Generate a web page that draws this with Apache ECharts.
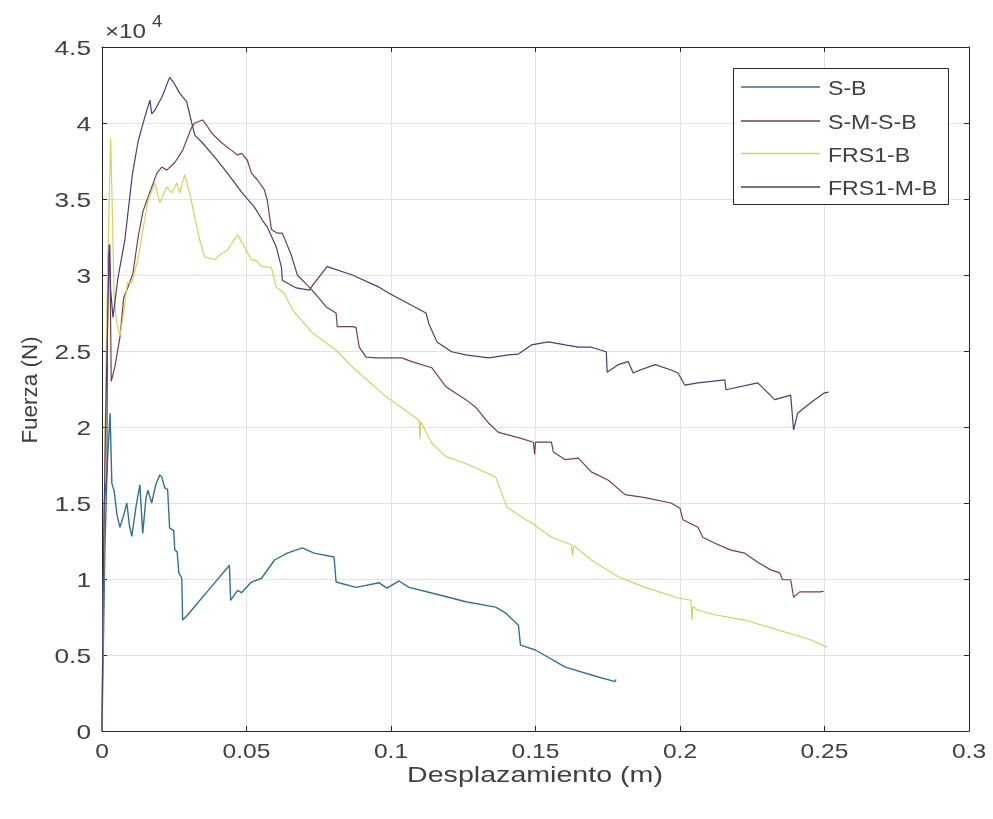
<!DOCTYPE html>
<html>
<head>
<meta charset="utf-8">
<script src="https://cdn.jsdelivr.net/npm/echarts@6/dist/echarts.min.js"></script>
<style>
  html, body { margin: 0; padding: 0; background: #ffffff; }
  #chart { width: 993px; height: 819px; }
</style>
</head>
<body>
<div id="chart"></div>
<script>
// Force-displacement curves: [displacement (m), force (N)]
const seriesNames = ['S-B', 'S-M-S-B', 'FRS1-B', 'FRS1-M-B'];

const sbData = [
  [0,0],[0.0005,6000],[0.001,12000],[0.0018,17500],[0.0028,20900],[0.0034,16300],[0.0042,15800],
  [0.0052,14200],[0.0062,13400],[0.0075,14200],[0.0086,15000],[0.0095,13500],[0.0103,12800],
  [0.0118,14800],[0.0131,16200],[0.0141,13000],[0.0152,15300],[0.0159,15850],[0.0172,15000],
  [0.0186,16200],[0.02,16850],[0.0207,16700],[0.0217,16000],[0.0227,15900],[0.0234,13350],
  [0.0248,13200],[0.0252,11900],[0.026,11800],[0.0266,10400],[0.0276,10050],[0.0279,7300],
  [0.0297,7650],[0.033,8400],[0.037,9300],[0.0441,10900],[0.0445,8600],[0.0469,9250],
  [0.0483,9100],[0.0517,9800],[0.0552,10050],[0.0597,11250],[0.0641,11700],[0.0693,12050],
  [0.0734,11700],[0.0803,11450],[0.081,9800],[0.0879,9450],[0.0959,9750],[0.0986,9400],
  [0.1028,9870],[0.1062,9450],[0.1141,9080],[0.1259,8500],[0.1362,8150],[0.1397,7750],
  [0.1441,6950],[0.1448,5650],[0.15,5330],[0.1603,4200],[0.1717,3550],[0.1776,3250],[0.1778,3400]
];

const smsbData = [
  [0,0],[0.0004,9000],[0.0008,15000],[0.0017,17000],[0.002,31000],[0.0027,32000],[0.0032,23000],
  [0.0045,24000],[0.0062,25900],[0.0075,28500],[0.009,29200],[0.0107,30100],[0.0125,32500],
  [0.0142,34200],[0.0159,35100],[0.019,36700],[0.0207,37100],[0.0224,36900],[0.0252,37400],
  [0.0279,38200],[0.031,39700],[0.0321,40000],[0.0348,40200],[0.0362,39850],[0.0379,39350],
  [0.0414,38700],[0.0448,38200],[0.0469,37900],[0.0483,38000],[0.0503,37550],[0.0517,36700],
  [0.0538,36250],[0.0562,35600],[0.0572,34900],[0.0586,33000],[0.0607,32750],[0.0624,32750],
  [0.0638,32100],[0.0655,31300],[0.0676,30000],[0.0717,29200],[0.0741,28700],[0.0776,27900],
  [0.081,27500],[0.0814,26600],[0.0866,26600],[0.0879,26550],[0.089,25250],[0.0914,24600],
  [0.0948,24550],[0.1003,24550],[0.1037,24550],[0.1072,24300],[0.1141,23900],[0.119,22650],
  [0.1259,21800],[0.1293,21300],[0.1338,20250],[0.1372,19650],[0.1441,19300],[0.1493,19000],
  [0.1497,18200],[0.150,19000],[0.1555,19000],[0.1562,18350],[0.1603,17850],[0.1648,17950],
  [0.1693,17050],[0.1752,16500],[0.181,15550],[0.1879,15350],[0.1969,15000],[0.2,14650],
  [0.201,13900],[0.2062,13400],[0.2079,12750],[0.2121,12350],[0.2176,11900],[0.2224,11700],
  [0.2269,11100],[0.2314,10600],[0.2345,10400],[0.2355,9950],[0.2383,9950],[0.2393,8800],
  [0.2414,9150],[0.2486,9150],[0.2497,9200]
];

const frs1bData = [
  [0,0],[0.0008,15000],[0.0014,24000],[0.002,31000],[0.003,39000],[0.0036,34000],[0.0042,28500],
  [0.005,27000],[0.0062,26000],[0.0075,27500],[0.0088,29500],[0.0103,29500],[0.0124,31000],
  [0.0142,33000],[0.0159,34900],[0.0183,36050],[0.02,34750],[0.0224,35800],[0.0241,35400],
  [0.0259,36050],[0.0269,35400],[0.0286,36600],[0.0303,35400],[0.0321,33800],[0.0338,32300],
  [0.0355,31200],[0.039,31000],[0.0407,31300],[0.0434,31650],[0.0469,32650],[0.0493,31850],
  [0.0517,31000],[0.0534,30950],[0.0552,30550],[0.0586,30500],[0.0603,29200],[0.0631,28800],
  [0.0659,27700],[0.0728,26200],[0.081,25050],[0.0866,23950],[0.0983,22000],[0.1097,20450],
  [0.11,19200],[0.1103,20350],[0.1141,18950],[0.119,18050],[0.1259,17600],[0.1362,16700],
  [0.1383,15650],[0.14,14750],[0.1466,13900],[0.1486,13700],[0.1555,12750],[0.1624,12250],
  [0.1628,11500],[0.1632,12200],[0.1693,11250],[0.1786,10150],[0.1879,9450],[0.1993,8750],
  [0.2038,8600],[0.2041,7300],[0.2045,8200],[0.2062,7950],[0.2121,7650],[0.2224,7300],
  [0.2338,6650],[0.2452,6000],[0.251,5500]
];

const frs1mbData = [
  [0,0],[0.0005,11000],[0.0012,20000],[0.0025,32000],[0.003,29000],[0.0038,27200],[0.0055,29800],
  [0.0079,32300],[0.0105,36600],[0.0125,38800],[0.0138,39700],[0.0155,40850],[0.0166,41500],
  [0.0172,40600],[0.0183,40850],[0.0207,41700],[0.0234,43000],[0.025,42600],[0.0269,41950],
  [0.0293,41400],[0.031,40050],[0.0321,39200],[0.0345,38750],[0.039,37750],[0.0434,36700],
  [0.0483,35450],[0.0528,34450],[0.0555,33600],[0.0572,33150],[0.0603,31850],[0.0621,30500],
  [0.0624,29650],[0.0672,29150],[0.0717,29000],[0.0734,29450],[0.0779,30550],[0.0866,30000],
  [0.0959,29200],[0.0993,28800],[0.1121,27500],[0.1131,26800],[0.1159,25600],[0.121,24950],
  [0.1259,24750],[0.1338,24550],[0.1407,24750],[0.1441,24800],[0.1486,25400],[0.1545,25600],
  [0.1603,25400],[0.1648,25250],[0.1693,25250],[0.1745,24950],[0.1748,23600],[0.1786,24100],
  [0.1821,24300],[0.1838,23550],[0.1855,23700],[0.1914,24100],[0.1969,23750],[0.1993,23550],
  [0.2017,22750],[0.2062,22900],[0.2155,23100],[0.2159,22450],[0.2269,22900],[0.2328,21800],
  [0.2383,22100],[0.2393,19800],[0.2407,20900],[0.2452,21600],[0.25,22250],[0.2514,22300]
];

const xTickValues = [0, 0.05, 0.1, 0.15, 0.2, 0.25, 0.3];
const xTickLabels = ['0', '0.05', '0.1', '0.15', '0.2', '0.25', '0.3'];
const yTickValues = [0, 5000, 10000, 15000, 20000, 25000, 30000, 35000, 40000, 45000];
const yTickLabels = ['0', '0.5', '1', '1.5', '2', '2.5', '3', '3.5', '4', '4.5'];

const seriesColors = ['#35718e', '#74404a', '#d6d064', '#4c3d6e'];
const seriesWidths = [1.4, 1.2, 1.2, 1.2];
const allData = [sbData, smsbData, frs1bData, frs1mbData];

const textColor = '#262626';
const labelColor = '#404040';
const fontFamily = '"Liberation Sans", Arial, sans-serif';

const chart = echarts.init(document.getElementById('chart'), null, { renderer: 'canvas' });

function axisBase(extra) {
  return Object.assign({
    type: 'value',
    axisLine: { show: true, onZero: false, lineStyle: { color: textColor, width: 1 } },
    axisTick: { show: true, inside: true, length: 5, lineStyle: { color: textColor } },
    axisLabel: { show: false },
    splitLine: { show: false }
  }, extra);
}

const gridLine = { show: true, lineStyle: { color: '#e2e2e2', width: 1 } };

chart.setOption({
  animation: false,
  backgroundColor: '#ffffff',
  grid: { left: 102, right: 24, top: 47, bottom: 88, containLabel: false },
  xAxis: [
    axisBase({ min: 0, max: 0.3, interval: 0.05, position: 'bottom', splitLine: gridLine }),
    axisBase({ min: 0, max: 0.3, interval: 0.05, position: 'top' })
  ],
  yAxis: [
    axisBase({ min: 0, max: 45000, interval: 5000, position: 'left', splitLine: gridLine }),
    axisBase({ min: 0, max: 45000, interval: 5000, position: 'right' })
  ],
  series: seriesNames.map(function (name, i) {
    return {
      name: name,
      type: 'line',
      data: allData[i],
      showSymbol: false,
      symbol: 'none',
      clip: true,
      color: seriesColors[i],
      lineStyle: { color: seriesColors[i], width: seriesWidths[i] },
      z: 2 + i
    };
  })
});

// Lettering: tick labels placed through the axis scales, titles, exponent and legend
function label(text, x, y, size, align, stretch, extra) {
  return Object.assign({
    type: 'text', x: x, y: y, scaleX: stretch, z: 50,
    style: {
      text: text, x: 0, y: 0, fill: labelColor,
      font: size + 'px ' + fontFamily,
      align: align, verticalAlign: 'middle'
    }
  }, extra || {});
}

const graphics = [];

xTickValues.forEach(function (v, i) {
  const px = chart.convertToPixel({ xAxisIndex: 0 }, v);
  graphics.push(label(xTickLabels[i], px, 752, 21, 'center', 1.17));
});
yTickValues.forEach(function (v, i) {
  const py = chart.convertToPixel({ yAxisIndex: 0 }, v);
  graphics.push(label(yTickLabels[i], 91, py + 2, 21, 'right', 1.25));
});

graphics.push(label('Desplazamiento (m)', 535, 776, 22, 'center', 1.3));
graphics.push(label('Fuerza (N)', 31, 390, 22, 'center', 1.02, { rotation: Math.PI / 2 }));
graphics.push(label('×10', 105, 32, 21, 'left', 1.15));
graphics.push(label('4', 152, 23, 16, 'left', 1.15));

// Legend box
const legendBox = { x: 733.5, y: 68.5, w: 215, h: 136 };
graphics.push({
  type: 'rect', z: 40,
  shape: { x: legendBox.x, y: legendBox.y, width: legendBox.w, height: legendBox.h },
  style: { fill: '#ffffff', stroke: textColor, lineWidth: 1 }
});
const legendRows = [87, 121, 153.5, 187];
seriesNames.forEach(function (name, i) {
  graphics.push({
    type: 'line', z: 45,
    shape: { x1: 741, y1: legendRows[i], x2: 820, y2: legendRows[i] },
    style: { stroke: seriesColors[i], lineWidth: 1.3 }
  });
  graphics.push(label(name, 828, legendRows[i] + 2.5, 21, 'left', 1.1));
});

chart.setOption({ graphic: graphics });
</script>
</body>
</html>
